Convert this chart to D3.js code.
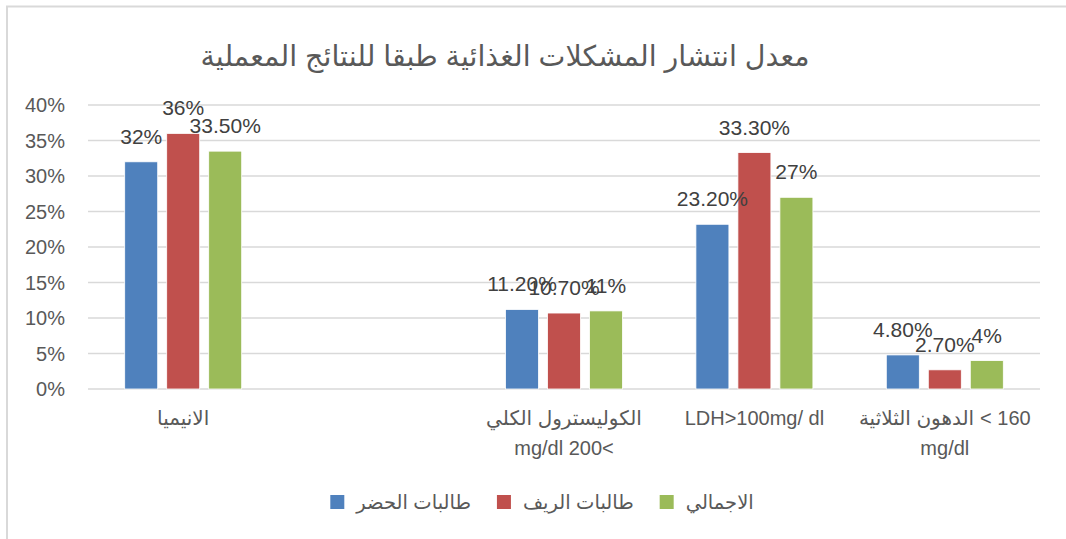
<!DOCTYPE html>
<html>
<head>
<meta charset="utf-8">
<script src="https://cdn.jsdelivr.net/npm/d3@7"></script>
<style>
  body { margin: 0; background: #fff; }
  svg { display: block; }
</style>
</head>
<body>
<script>
// بيانات الرسم
const categories = ["الانيميا", "", "الكوليسترول", "LDH", "الدهون"];
// كل سطر مقسم إلى أجزاء بالترتيب المرئي من اليسار إلى اليمين
const categoryLines = [
    [["الانيميا"]],
    [],
    [["الكوليسترول الكلي"], ["mg/dl 200<"]],
    [["LDH>100mg/ dl"]],
    [["الدهون الثلاثية", "< 160"], ["mg/dl"]]
];
const seriesNames = ["طالبات الحضر", "طالبات الريف", "الاجمالي"];
const seriesColors = ["#4f81bd", "#c0504d", "#9bbb59"];
const urban = [32, null, 11.2, 23.2, 4.8];
const rural = [36, null, 10.7, 33.3, 2.7];
const total = [33.5, null, 11, 27, 4];
const yTicks = [0, 5, 10, 15, 20, 25, 30, 35, 40];
const titleText = "معدل انتشار المشكلات الغذائية طبقا للنتائج المعملية";

const W = 1066, H = 539;
const font = "Arial, 'Liberation Sans', 'DejaVu Sans', sans-serif";
const series = [urban, rural, total];

const svg = d3.select("body").append("svg")
    .attr("width", W)
    .attr("height", H);

// إطار الرسم
svg.append("line").attr("x1", 6).attr("x2", W).attr("y1", 6.5).attr("y2", 6.5)
    .attr("stroke", "#d9d9d9").attr("stroke-width", 2);
svg.append("line").attr("x1", 7).attr("x2", 7).attr("y1", 6).attr("y2", H)
    .attr("stroke", "#d9d9d9").attr("stroke-width", 2);

// العنوان
svg.append("text")
    .attr("x", 505)
    .attr("y", 66)
    .attr("text-anchor", "middle")
    .attr("font-family", font)
    .attr("font-size", 28.5)
    .attr("fill", "#595959")
    .text(titleText);

const x0 = d3.scaleBand()
    .domain(d3.range(categories.length))
    .range([88, 1040]);

const x1 = d3.scaleBand()
    .domain(d3.range(seriesNames.length))
    .range([-58.5, 58.5])
    .paddingInner(0.214);

const y = d3.scaleLinear()
    .domain([0, 40])
    .range([389, 105]);

// خطوط الشبكة
svg.append("g")
    .selectAll("line")
    .data(yTicks)
    .join("line")
    .attr("x1", 88)
    .attr("x2", 1040)
    .attr("y1", d => y(d))
    .attr("y2", d => y(d))
    .attr("stroke", "#d9d9d9")
    .attr("stroke-width", 1.5);

// محور y
svg.append("g")
    .selectAll("text")
    .data(yTicks)
    .join("text")
    .attr("x", 65)
    .attr("y", d => y(d) + 7)
    .attr("text-anchor", "end")
    .attr("font-family", font)
    .attr("font-size", 20)
    .attr("fill", "#595959")
    .text(d => d + "%");

// الأعمدة
const fmt = v => Number.isInteger(v) ? v + "%" : v.toFixed(2) + "%";
const groups = svg.append("g")
    .selectAll("g")
    .data(categories.map((c, i) => i))
    .join("g")
    .attr("transform", i => "translate(" + (x0(i) + x0.bandwidth() / 2) + ",0)");

groups.selectAll("rect")
    .data(i => series.map((s, k) => ({ k: k, v: s[i] })).filter(d => d.v != null))
    .join("rect")
    .attr("x", d => x1(d.k))
    .attr("width", x1.bandwidth())
    .attr("y", d => y(d.v))
    .attr("height", d => y(0) - y(d.v))
    .attr("fill", d => seriesColors[d.k])
    .attr("stroke", "#fff")
    .attr("stroke-width", 0.8);

// قيم الأعمدة
groups.selectAll("text.val")
    .data(i => series.map((s, k) => ({ k: k, v: s[i] })).filter(d => d.v != null))
    .join("text")
    .attr("class", "val")
    .attr("x", d => x1(d.k) + x1.bandwidth() / 2)
    .attr("y", d => y(d.v) - 18)
    .attr("text-anchor", "middle")
    .attr("font-family", font)
    .attr("font-size", 21)
    .attr("fill", "#404040")
    .text(d => fmt(d.v));

// تسميات الفئات
groups.each(function (i) {
    const g = d3.select(this);
    categoryLines[i].forEach((segs, j) => {
        const line = g.append("g");
        let cx = 0;
        segs.forEach(s => {
            const t = line.append("text")
                .attr("x", cx)
                .attr("y", 425 + j * 30)
                .attr("font-family", font)
                .attr("font-size", 20)
                .attr("fill", "#595959")
                .text(s);
            cx += t.node().getComputedTextLength() + 6;
        });
        line.attr("transform", "translate(" + (-(cx - 6) / 2) + ",0)");
    });
});

// وسيلة الإيضاح
const legend = svg.append("g");
let lx = 0;
seriesNames.forEach((name, k) => {
    legend.append("rect")
        .attr("x", lx).attr("y", 495)
        .attr("width", 14).attr("height", 14)
        .attr("fill", seriesColors[k]);
    const t = legend.append("text")
        .attr("x", lx + 26).attr("y", 509)
        .attr("font-family", font)
        .attr("font-size", 19.5)
        .attr("fill", "#595959")
        .text(name);
    lx += 26 + t.node().getComputedTextLength() + 26;
});
legend.attr("transform", "translate(" + (542 - (lx - 26) / 2) + ",0)");
</script>
</body>
</html>
